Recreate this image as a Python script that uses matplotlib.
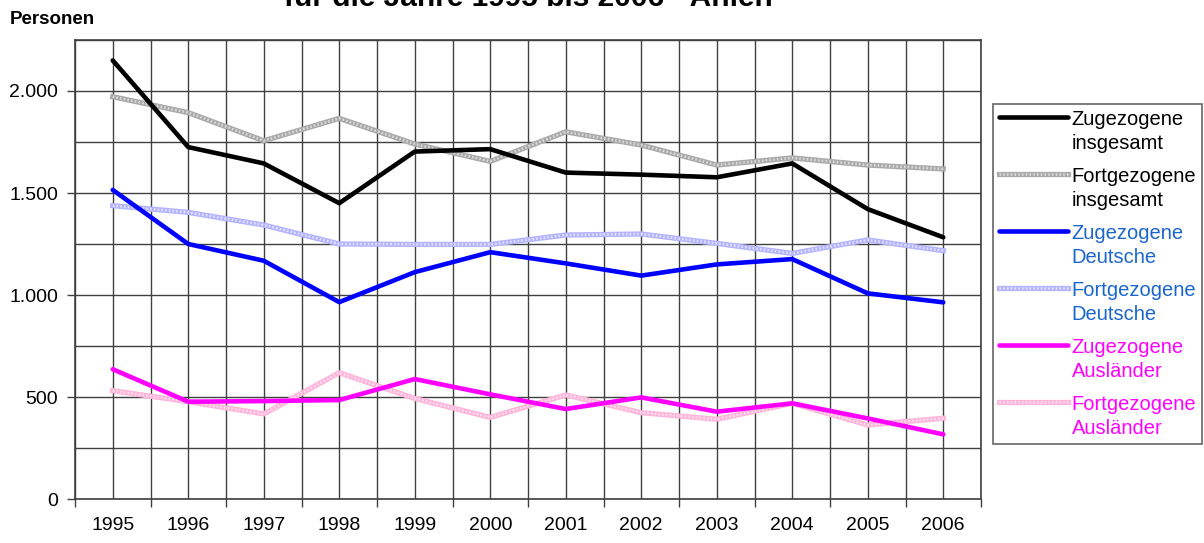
import matplotlib
matplotlib.use('Agg')
import matplotlib.pyplot as plt
from matplotlib.ticker import MultipleLocator, FixedLocator, FuncFormatter
from matplotlib.legend_handler import HandlerTuple
from matplotlib.transforms import Affine2D

plt.rcParams['font.family'] = ['Liberation Sans', 'DejaVu Sans']

# data
years = ['1995', '1996', '1997', '1998', '1999', '2000',
         '2001', '2002', '2003', '2004', '2005', '2006']
zug_ges = [2150, 1725, 1645, 1450, 1703, 1715, 1600, 1590, 1577, 1645, 1421, 1283]
fort_ges = [1972, 1894, 1756, 1866, 1740, 1655, 1800, 1735, 1637, 1672, 1637, 1618]
zug_de = [1515, 1250, 1168, 965, 1112, 1210, 1155, 1095, 1150, 1176, 1008, 964]
fort_de = [1438, 1405, 1343, 1250, 1248, 1248, 1294, 1299, 1253, 1204, 1270, 1217]
zug_aus = [636, 477, 480, 485, 588, 513, 441, 498, 428, 469, 395, 317]
fort_aus = [531, 477, 417, 619, 493, 400, 510, 423, 391, 469, 363, 396]

labels = ['Zugezogene\ninsgesamt', 'Fortgezogene\ninsgesamt',
          'Zugezogene\nDeutsche', 'Fortgezogene\nDeutsche',
          'Zugezogene\nAusländer', 'Fortgezogene\nAusländer']
text_colors = ['black', 'black', '#1a66cc', '#1a66cc', '#ff00ff', '#ff00ff']


# legend handle sits on the first text line, like in the original
class TopHandler(HandlerTuple):
    def create_artists(self, legend, orig_handle, xdescent, ydescent,
                       width, height, fontsize, trans):
        arts = super().create_artists(legend, orig_handle, xdescent, ydescent,
                                      width, height, fontsize, trans)
        for a in arts:
            a.set_transform(Affine2D().translate(0, 0.72 * fontsize) + a.get_transform())
        return arts


fig = plt.figure(figsize=(12.04, 5.43), dpi=100)
ax = fig.add_axes([75/1204, 44/543, 906/1204, 459/543])

x = list(range(len(years)))
lw = 3.3

# solid series
h1 = tuple(ax.plot(x, zug_ges, color='black', lw=lw, solid_capstyle='round', zorder=5))
h3 = tuple(ax.plot(x, zug_de, color='#0000ff', lw=lw, solid_capstyle='round', zorder=5))
h5 = tuple(ax.plot(x, zug_aus, color='#ff00ff', lw=lw, solid_capstyle='round', zorder=5))

# patterned series (base line + fine light overlay)
def pattern(vals, base, light):
    a, = ax.plot(x, vals, color=base, lw=3.8, zorder=4)
    b, = ax.plot(x, vals, color=light, lw=1.8, ls=(0, (0.6, 0.9)), zorder=4)
    return (a, b)

h2 = pattern(fort_ges, '#aaaaaa', '#dedede')
h4 = pattern(fort_de, '#b4b4ff', '#e6e6ff')
h6 = pattern(fort_aus, '#ffb4da', '#ffe6f2')

ax.set_xlim(-0.5, len(years) - 0.5)
ax.set_ylim(0, 2250)

ax.yaxis.set_major_locator(MultipleLocator(500))
ax.yaxis.set_minor_locator(MultipleLocator(250))
ax.yaxis.set_major_formatter(FuncFormatter(lambda v, p: f'{int(v):,}'.replace(',', '.')))
ax.set_xticks(x)
ax.set_xticklabels(years)
ax.xaxis.set_minor_locator(FixedLocator([i - 0.5 for i in range(len(years) + 1)]))

ax.grid(True, which='both', axis='both', color='#404040', lw=1.0, zorder=1)
ax.tick_params(axis='x', which='major', length=0, pad=13, labelsize=14)
ax.tick_params(axis='x', which='minor', length=6, width=1, color='#404040')
ax.tick_params(axis='y', which='major', length=6, width=1, color='#404040', labelsize=14, pad=6)
ax.tick_params(axis='y', which='minor', length=0)
for s in ax.spines.values():
    s.set_color('#404040')
    s.set_linewidth(1.2)

leg = ax.legend([h1, h2, h3, h4, h5, h6], labels,
                handler_map={tuple: TopHandler(ndivide=1, pad=0)},
                loc='upper left', bbox_to_anchor=(993/1204, 1 - 104/543),
                bbox_transform=fig.transFigure, fontsize=14.5,
                frameon=True, fancybox=False, edgecolor='#404040',
                handlelength=3.4, handletextpad=0.2, borderpad=0.3,
                labelspacing=0.72, borderaxespad=0)
leg.get_frame().set_linewidth(1.2)
for t, c in zip(leg.get_texts(), text_colors):
    t.set_color(c)
    t.set_linespacing(1.3)

fig.text(10/1204, 1 - 24/543, 'Personen', fontsize=13.5, fontweight='bold')
fig.text(528/1204, 1 - 6/543, 'für die Jahre 1995 bis 2006 - Ahlen',
         fontsize=21.5, fontweight='bold', ha='center', va='baseline')

fig.savefig('out.png', dpi=100)
